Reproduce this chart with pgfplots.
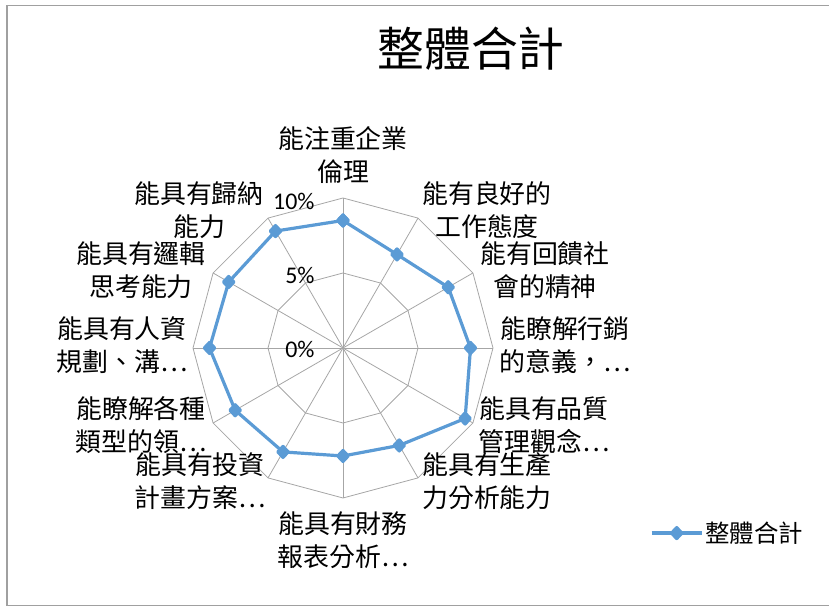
\documentclass[border=0pt]{standalone}
\usepackage{fontspec}
\usepackage{pgfplots}
\pgfplotsset{compat=1.18}
\usepgfplotslibrary{polar}
\setmainfont{Carlito}
\newfontfamily\cjk{Noto Sans CJK TC}
\definecolor{serieblue}{HTML}{5B9BD5}
\definecolor{gridgray}{HTML}{A6A6A6}
\definecolor{framegray}{HTML}{A0A0A0}
\newcommand{\labfont}{\cjk\fontsize{26}{33}\selectfont}
\begin{document}
\begin{tikzpicture}[x=1bp,y=1bp]
  \useasboundingbox (0,0) rectangle (829,607);
  % chart frame (right edge lies outside the picture)
  \draw[framegray, line width=1.8bp] (835,1.5) -- (7,1.5) -- (7,601.5) -- (835,601.5);

  \node[font=\cjk\fontsize{47}{52}\selectfont] at (471,558) {整體合計};

  \begin{polaraxis}[
      at={(343bp,259bp)}, anchor=center,
      width=300bp, height=300bp, scale only axis,
      ymin=0, ymax=10,
      hide axis, clip=false,
      radargrid/.style={draw=gridgray, line width=0.8bp, no marks, forget plot},
      legend style={at={(1.523,-0.117)}, anchor=west, draw=none, fill=none,
        inner sep=0pt, font=\cjk\fontsize{24.5}{28}\selectfont},
      legend image code/.code={
        \draw[#1, mark repeat=2, mark phase=2]
          plot coordinates {(0bp,0bp) (25bp,0bp) (50bp,0bp)};},
    ]
    \pgfplotsinvokeforeach{0,30,...,330}{
      \addplot[radargrid] coordinates {(0,0) (#1,10)};
    }
    \addplot[radargrid] coordinates {(90,5)(60,5)(30,5)(0,5)(-30,5)(-60,5)(-90,5)
      (-120,5)(-150,5)(-180,5)(-210,5)(-240,5)(-270,5)};
    \addplot[radargrid] coordinates {(90,10)(60,10)(30,10)(0,10)(-30,10)(-60,10)(-90,10)
      (-120,10)(-150,10)(-180,10)(-210,10)(-240,10)(-270,10)};

    \addplot[serieblue, line width=3.2bp, line join=round, mark=diamond*,
        mark size=5.5bp, mark options={solid, fill=serieblue, xscale=1.25}]
      coordinates {(90,8.5)(60,7.2)(30,8.1)(0,8.5)(-30,9.4)(-60,7.5)(-90,7.2)
        (-120,8.0)(-150,8.3)(-180,8.9)(-210,8.8)(-240,9.0)(-270,8.5)};
    \addlegendentry{整體合計}
  \end{polaraxis}

  % radial tick labels
  \begin{scope}[font=\fontsize{24}{28}\selectfont, anchor=east]
    \node at (318,406) {10\%};
    \node at (318,332) {5\%};
    \node at (318,258) {0\%};
  \end{scope}

  % category labels
  \begin{scope}[font=\labfont]
    \node[align=center] at (343,452) {能注重企業\\倫理};
    \node[align=center] at (487,397) {能有良好的\\工作態度};
    \node[align=center] at (545,337) {能有回饋社\\會的精神};
    \node[align=center] at (565,262) {能瞭解行銷\\的意義，…};
    \node[align=center] at (544,182) {能具有品質\\管理觀念…};
    \node[align=center] at (487,126) {能具有生產\\力分析能力};
    \node[align=center] at (343,67)  {能具有財務\\報表分析…};
    \node[align=center] at (200,126) {能具有投資\\計畫方案…};
    \node[align=center] at (141,182) {能瞭解各種\\類型的領…};
    \node[align=center] at (122,262) {能具有人資\\規劃、溝…};
    \node[align=center] at (141,337) {能具有邏輯\\思考能力};
    \node[align=center] at (199,397) {能具有歸納\\能力};
  \end{scope}
\end{tikzpicture}
\end{document}
